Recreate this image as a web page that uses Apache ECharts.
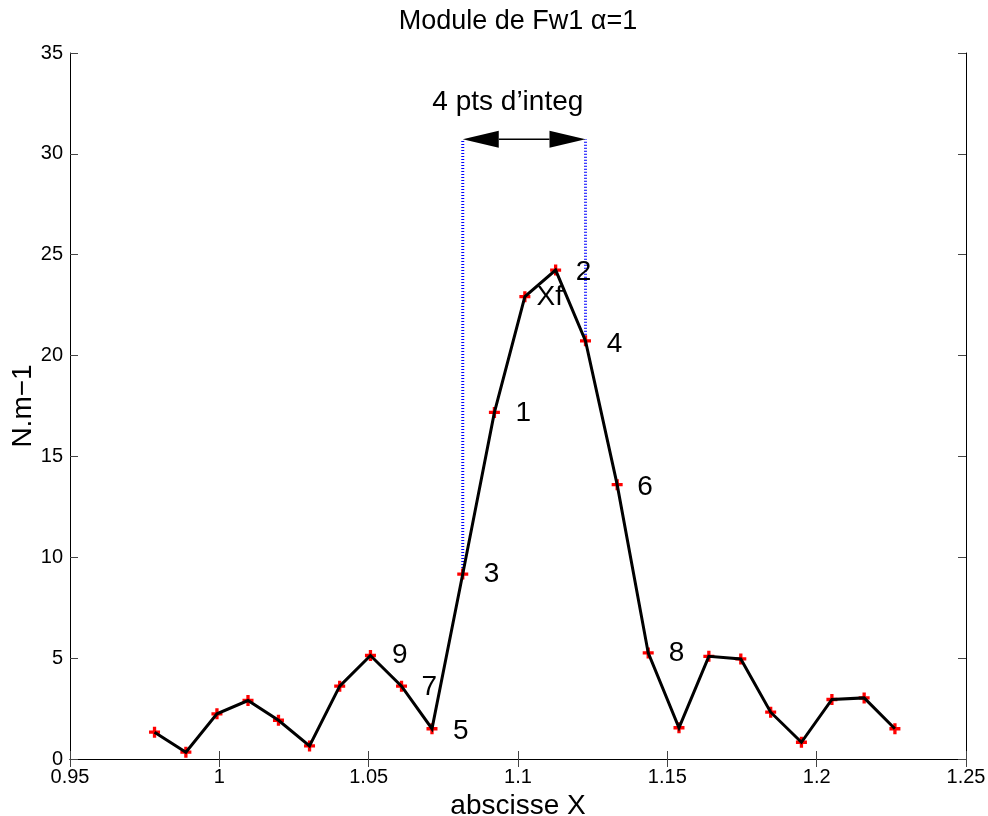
<!DOCTYPE html>
<html>
<head>
<meta charset="utf-8">
<script src="https://cdn.jsdelivr.net/npm/echarts@6/dist/echarts.min.js"></script>
<style>html,body{margin:0;padding:0;background:#fff}#c{width:988px;height:816px}</style>
</head>
<body>
<div id="c"></div>
<script>
// ---- data ----
const xs = [0.9783,0.9888,0.9992,1.0096,1.0198,1.0302,1.0403,1.0506,1.0610,1.0712,1.0815,1.0921,1.1023,1.1126,1.1226,1.1332,1.1436,1.1539,1.1639,1.1746,1.1846,1.1949,1.2051,1.2159,1.2262];
const ys = [1.33,0.34,2.24,2.90,1.92,0.65,3.61,5.13,3.61,1.50,9.17,17.18,22.92,24.24,20.73,13.60,5.26,1.55,5.09,4.96,2.32,0.83,2.95,3.03,1.50];
const annotText = ['9','7','5','3','1','Xf','2','4','6','8'];
const annotX = [1.0578,1.0677,1.0782,1.0885,1.0992,1.1062,1.1193,1.1297,1.1399,1.1505];
const annotY = [5.13,3.57,1.36,9.14,17.16,22.88,24.15,20.58,13.47,5.23];
const guideX = [1.0815, 1.1226];
const guideY0 = [9.17, 20.73];
const arrowY = 30.72;
const arrowText = '4 pts d\u2019integ';
const arrowTextPos = [1.0966, 32.54];
const xTicks = {min: 0.95, max: 1.25, interval: 0.05};
const yTicks = {min: 0, max: 35, interval: 5};
const titleText = 'Module de Fw1 \u03b1=1';
const xName = 'abscisse X';
const yName = 'N.m\u22121';

// ---- build ----
const FONT = '"Liberation Sans", Arial, Helvetica, sans-serif';
const pts = xs.map((x, i) => [x, ys[i]]);
const guides = guideX.map((gx, i) => [[gx, guideY0[i]], [gx, arrowY]]);
const annots = annotText.map((t, i) => ({value: [annotX[i], annotY[i]], name: t}));
const plusPath = 'path://M3.5,0H6.5V3.5H10V6.5H6.5V10H3.5V6.5H0V3.5H3.5Z';

const axisCommon = {
  axisLine: {show: true, lineStyle: {color: '#000', width: 1}},
  axisTick: {show: true, inside: true, length: 8, lineStyle: {color: '#444', width: 1}},
  splitLine: {show: false}
};

const GRID = {left: 70, right: 22, top: 53, bottom: 57};
const chart = echarts.init(document.getElementById('c'), null, {renderer: 'canvas'});
const option = {
  backgroundColor: '#fff',
  animation: false,
  title: {
    text: titleText, left: GRID.left + (988 - GRID.left - GRID.right) / 2, textAlign: 'center', top: 8, padding: 0,
    textStyle: {fontFamily: FONT, fontSize: 27, fontWeight: 'normal', color: '#000'}
  },
  grid: Object.assign({containLabel: false, outerBoundsMode: 'none'}, GRID),
  xAxis: [
    Object.assign({
      type: 'value', position: 'bottom', min: xTicks.min, max: xTicks.max, interval: xTicks.interval,
      name: xName, nameLocation: 'middle', nameGap: 33, nameMoveOverlap: false,
      nameTextStyle: {fontFamily: FONT, fontSize: 28, color: '#000'},
      axisLabel: {fontFamily: FONT, fontSize: 20, color: '#000', margin: 8,
        formatter: v => String(+v.toFixed(2))}
    }, axisCommon),
    Object.assign({
      type: 'value', position: 'top', min: xTicks.min, max: xTicks.max, interval: xTicks.interval,
      axisLabel: {show: false}
    }, axisCommon)
  ],
  yAxis: [
    Object.assign({
      type: 'value', position: 'left', min: yTicks.min, max: yTicks.max, interval: yTicks.interval,
      name: yName, nameLocation: 'middle', nameGap: 33, nameMoveOverlap: false,
      nameTextStyle: {fontFamily: FONT, fontSize: 28, color: '#000'},
      axisLabel: {fontFamily: FONT, fontSize: 20, color: '#000', margin: 7}
    }, axisCommon),
    Object.assign({
      type: 'value', position: 'right', min: yTicks.min, max: yTicks.max, interval: yTicks.interval,
      axisLabel: {show: false}
    }, axisCommon)
  ],
  series: [
    ...guides.map(g => ({
      type: 'line', data: g, showSymbol: false, symbol: 'none', silent: true, z: 1,
      lineStyle: {color: '#0000ff', width: 3, type: [1, 2]}
    })),
    {
      type: 'scatter', data: pts, symbol: plusPath, symbolSize: 11, z: 2, silent: true,
      itemStyle: {color: '#ff0000', opacity: 1}
    },
    {
      type: 'line', data: pts, showSymbol: false, symbol: 'none', z: 3, silent: true,
      lineStyle: {color: '#000', width: 3, join: 'miter'}
    },
    {
      type: 'scatter', data: annots, symbolSize: 0, z: 4, silent: true,
      itemStyle: {opacity: 1},
      label: {show: true, position: 'right', distance: 0, formatter: p => p.name, opacity: 1,
        fontFamily: FONT, fontSize: 28, color: '#000', align: 'left', verticalAlign: 'middle'}
    },
    {
      type: 'scatter', data: [{value: arrowTextPos, name: arrowText}], symbolSize: 0, z: 4, silent: true,
      itemStyle: {opacity: 1},
      label: {show: true, position: 'inside', formatter: p => p.name, opacity: 1,
        fontFamily: FONT, fontSize: 28, color: '#000', align: 'center', verticalAlign: 'middle'}
    },
    {
      type: 'custom', z: 5, silent: true,
      data: [[guideX[0], arrowY, guideX[1]]],
      encode: {x: [0, 2], y: 1},
      renderItem: function (params, api) {
        const a = api.coord([api.value(0), api.value(1)]);
        const b = api.coord([api.value(2), api.value(1)]);
        const L = 36, H = 8.5;
        return {
          type: 'group',
          children: [
            {type: 'line', shape: {x1: a[0] + L, y1: a[1], x2: b[0] - L, y2: b[1]},
              style: {stroke: '#000', lineWidth: 1.5}},
            {type: 'polygon', shape: {points: [[a[0], a[1]], [a[0] + L, a[1] - H], [a[0] + L, a[1] + H]]},
              style: {fill: '#000'}},
            {type: 'polygon', shape: {points: [[b[0], b[1]], [b[0] - L, b[1] - H], [b[0] - L, b[1] + H]]},
              style: {fill: '#000'}}
          ]
        };
      }
    }
  ]
};
chart.setOption(option);
</script>
</body>
</html>
